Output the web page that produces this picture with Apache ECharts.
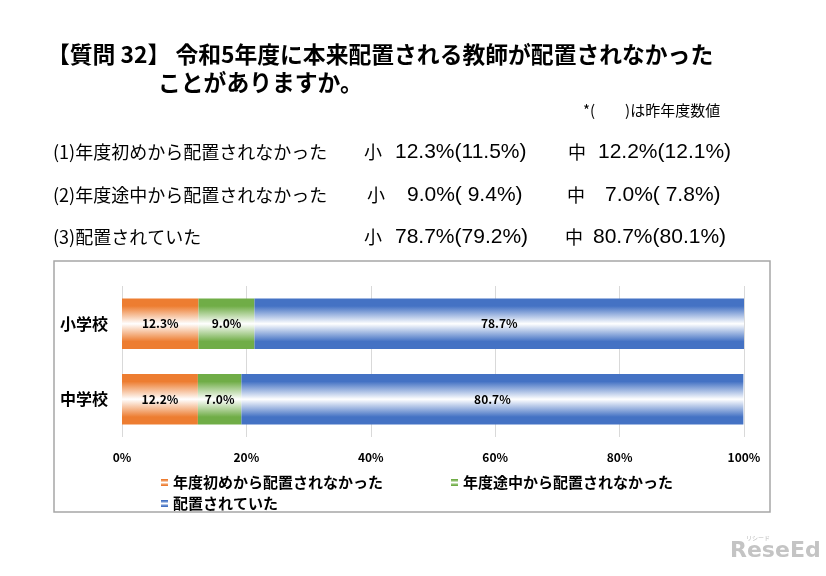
<!DOCTYPE html>
<html><head><meta charset="utf-8">
<script src="https://cdn.jsdelivr.net/npm/echarts@6/dist/echarts.min.js"></script>
<style>html,body{margin:0;padding:0;background:#fff}#c{width:826px;height:576px}</style>
</head><body><div id="c"></div>
<script>
const categories = ['小学校', '中学校'];
const seriesNames = ['年度初めから配置されなかった', '年度途中から配置されなかった', '配置されていた'];
const rowLabels = ['(1)年度初めから配置されなかった', '(2)年度途中から配置されなかった', '(3)配置されていた'];
const elemNow = [12.3, 9.0, 78.7];
const elemPrev = [11.5, 9.4, 79.2];
const juniorNow = [12.2, 7.0, 80.7];
const juniorPrev = [12.1, 7.8, 80.1];
const xTicks = [0, 20, 40, 60, 80, 100];
const colors = ['#ED7D31', '#70AD47', '#4472C4'];

const FONT = '"Noto Sans CJK JP", "Noto Sans", sans-serif';
const NUMFONT = '"Liberation Sans", "Noto Sans", sans-serif';
function grad(c) {
  return new echarts.graphic.LinearGradient(0, 0, 0, 1, [
    {offset: 0, color: c}, {offset: 0.15, color: c}, {offset: 0.5, color: '#ffffff'},
    {offset: 0.85, color: c}, {offset: 1, color: c}
  ]);
}
function pad(v) { const s = v.toFixed(1); return s.length < 4 ? ' ' + s : s; }

const chart = echarts.init(document.getElementById('c'));
const graphics = [
  {type: 'rect', shape: {x: 54, y: 261, width: 716, height: 251}, style: {fill: 'none', stroke: '#a6a6a6', lineWidth: 1.5}, z: 0},
  {type: 'text', left: 47, top: 43, style: {text: '【質問 32】 令和5年度に本来配置される教師が配置されなかった', font: 'bold 22.8px ' + FONT, fill: '#000'}},
  {type: 'text', left: 158, top: 71, style: {text: 'ことがありますか。', font: 'bold 22.8px ' + FONT, fill: '#000'}},
  {type: 'text', left: 583, top: 103, style: {text: '*(　　)は昨年度数値', font: '15px ' + FONT, fill: '#000'}},
  {type: 'text', left: 730, top: 540, style: {text: 'ReseEd', font: 'bold 22px "DejaVu Sans", sans-serif', fill: '#c4c4c4'}},
  {type: 'text', left: 746, top: 535, style: {text: 'リシード', font: '6px ' + FONT, fill: '#bbbbbb'}}
];
const rowY = [152, 195, 237];
const smallX = [364, 367, 364];
const smallValX = [395, 407, 395];
const midX = [568, 567, 565];
const midValX = [598, 605, 593];
for (let i = 0; i < 3; i++) {
  const f = '18px ' + FONT;
  const nf = '21px ' + NUMFONT;
  const base = {fill: '#000', textVerticalAlign: 'middle'};
  graphics.push({type: 'text', x: 53, y: rowY[i], style: Object.assign({text: rowLabels[i], font: f}, base)});
  graphics.push({type: 'text', x: smallX[i], y: rowY[i], style: Object.assign({text: '小', font: f}, base)});
  graphics.push({type: 'text', x: smallValX[i], y: rowY[i], style: Object.assign({text: elemNow[i].toFixed(1) + '%(' + pad(elemPrev[i]) + '%)', font: nf}, base)});
  graphics.push({type: 'text', x: midX[i], y: rowY[i], style: Object.assign({text: '中', font: f}, base)});
  graphics.push({type: 'text', x: midValX[i], y: rowY[i], style: Object.assign({text: juniorNow[i].toFixed(1) + '%(' + pad(juniorPrev[i]) + '%)', font: nf}, base)});
}

const series = seriesNames.map((n, i) => ({
  name: n, type: 'bar', stack: 'total', barWidth: '67%',
  data: [elemNow[i], juniorNow[i]],
  itemStyle: {color: grad(colors[i])},
  label: {show: true, position: 'inside', formatter: p => p.value.toFixed(1) + '%', color: '#000', fontWeight: 'bold', fontSize: 12, fontFamily: FONT},
  emphasis: {disabled: true}
}));

const legendText = {fontFamily: FONT, fontWeight: 'bold', fontSize: 15, color: '#000'};
chart.setOption({
  animation: false,
  textStyle: {fontFamily: FONT},
  grid: {left: 122, right: 82, top: 286, bottom: 139},
  xAxis: {type: 'value', min: xTicks[0], max: xTicks[xTicks.length - 1], interval: 20,
    axisLabel: {formatter: '{value}%', color: '#000', fontWeight: 'bold', fontSize: 12, margin: 14, fontFamily: FONT},
    axisLine: {show: false}, axisTick: {show: false},
    splitLine: {lineStyle: {color: '#d9d9d9', width: 1}}},
  yAxis: {type: 'category', data: categories, inverse: true,
    axisLabel: {color: '#000', fontWeight: 'bold', fontSize: 16, margin: 14, fontFamily: FONT},
    axisLine: {show: false}, axisTick: {show: false}},
  legend: [
    {data: [seriesNames[0], seriesNames[1]], left: 156, top: 470, itemWidth: 7, itemHeight: 7, itemGap: 68, icon: 'rect', textStyle: legendText, selectedMode: false},
    {data: [seriesNames[2]], left: 156, top: 491, itemWidth: 7, itemHeight: 7, icon: 'rect', textStyle: legendText, selectedMode: false}
  ],
  series: series,
  graphic: graphics
});
</script></body></html>
